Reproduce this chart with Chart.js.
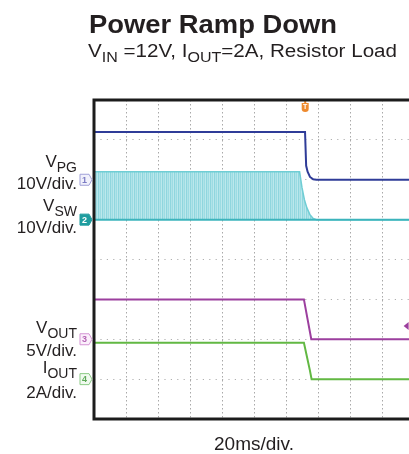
<!DOCTYPE html>
<html><head><meta charset="utf-8">
<script src="https://cdn.jsdelivr.net/npm/chart.js@4/dist/chart.umd.min.js"></script>
<style>
html,body{margin:0;padding:0;background:#fff;overflow:hidden;width:409px;height:454px;}
canvas{display:block;}
</style></head><body>
<canvas id="c" width="424" height="454" style="width:424px;height:454px"></canvas>
<script>
// ---- data read from the scope capture (time in ms, 20 ms/div) ----
const timeTicksMs = [0, 20, 40, 60, 80, 100, 120, 140, 160, 180, 200];
const vpgTimeMs = [0, 131.9, 132.6, 133.5, 135, 137, 139, 200];
const vpgVolts  = [12, 12, 3.5, 2.0, 0.7, 0.1, 0, 0];
const vswTimeMs = [0, 128.5, 130, 131.5, 133, 135, 137, 139, 200];
const vswPeakVolts = [12, 12, 8, 5, 3, 1.2, 0.3, 0, 0];
const vswBaseVolts = [0, 0, 0, 0, 0, 0, 0, 0, 0];
const voutTimeMs = [0, 131.2, 133.5, 135.8, 200];
const voutVolts  = [5.0, 5.0, 2.5, 0, 0];
const ioutTimeMs = [0, 131.2, 134.9, 136, 200];
const ioutAmps   = [1.82, 1.82, 0.45, 0, 0];
const channelNames = [['V','PG'], ['V','SW'], ['V','OUT'], ['I','OUT']];
const channelScaleLabels = ['10V/div.', '10V/div.', '5V/div.', '2A/div.'];
const channelPerDiv = [10, 10, 5, 2];
const channelOffsetDiv = [6, 5, 2, 1];
const triggerTimeMs = 132;
const triggerLevelVout = 1.65;
const timeBaseLabel = '20ms/div.';
const titleText = 'Power Ramp Down';

// ---- helpers ----
function toDiv(vals, ch) { return vals.map(v => channelOffsetDiv[ch] + v / channelPerDiv[ch]); }
function pts(ts, ys) { return ts.map((t, i) => ({ x: t, y: ys[i] })); }

const canvas = document.getElementById('c');
const ctx0 = canvas.getContext('2d');
function bandPattern() {
  const c = document.createElement('canvas'); c.width = 4; c.height = 1;
  const g = c.getContext('2d');
  ['#9cdce3', '#bce8ec', '#8fd6de', '#b0e3e8'].forEach((col, i) => { g.fillStyle = col; g.fillRect(i, 0, 1, 1); });
  return ctx0.createPattern(c, 'repeat');
}

const FONT = '"Liberation Sans", Arial, Helvetica, sans-serif';
const TEXT = '#231f20';

function drawSubText(ctx, parts, x, y, align, mainPx, subPx, targetW) {
  const mainF = mainPx + 'px ' + FONT, subF = subPx + 'px ' + FONT;
  let w = 0;
  parts.forEach(p => { ctx.font = p[1] ? subF : mainF; w += ctx.measureText(p[0]).width; });
  const sx = targetW ? targetW / w : 1;
  ctx.save();
  ctx.translate(align === 'right' ? x - w * sx : x, 0);
  ctx.scale(sx, 1);
  let cx = 0;
  ctx.textAlign = 'left'; ctx.textBaseline = 'alphabetic';
  parts.forEach(p => {
    ctx.font = p[1] ? subF : mainF;
    ctx.fillText(p[0], cx, p[1] ? y + 5 : y);
    cx += ctx.measureText(p[0]).width;
  });
  ctx.restore();
}

const markerStyles = [
  { fill: '#f1f1fb', stroke: '#a0a0d8', text: '#7c7cc4' },
  { fill: '#1f9d9f', stroke: '#1f9d9f', text: '#ffffff' },
  { fill: '#fbeffb', stroke: '#d595d5', text: '#b463b4' },
  { fill: '#f0faef', stroke: '#8ccb86', text: '#5ea958' }
];

const scopePlugin = {
  id: 'scope',
  afterDatasetsDraw(chart) {
    const { ctx, chartArea: a, scales: { x, y } } = chart;
    ctx.save();
    const ty = y.getPixelForValue(channelOffsetDiv[2] + triggerLevelVout / channelPerDiv[2]);
    const tx = x.getPixelForValue(193.5);
    ctx.fillStyle = '#9c3f9e';
    ctx.beginPath(); ctx.moveTo(tx, ty); ctx.lineTo(tx + 5, ty - 4); ctx.lineTo(tx + 5, ty + 4); ctx.closePath(); ctx.fill();
    const gx = x.getPixelForValue(triggerTimeMs);
    ctx.fillStyle = '#ee8a2e';
    ctx.fillRect(gx - 1, a.top, 2, 3);
    ctx.beginPath();
    ctx.moveTo(gx - 3.5, a.top + 3); ctx.lineTo(gx + 3.5, a.top + 3); ctx.lineTo(gx + 3.5, a.top + 9);
    ctx.quadraticCurveTo(gx + 3.5, a.top + 12, gx, a.top + 12);
    ctx.quadraticCurveTo(gx - 3.5, a.top + 12, gx - 3.5, a.top + 9); ctx.closePath(); ctx.fill();
    ctx.fillStyle = '#fff'; ctx.font = 'bold 7px ' + FONT; ctx.textAlign = 'center'; ctx.textBaseline = 'middle';
    ctx.fillText('T', gx, a.top + 7);
    ctx.strokeStyle = '#1c1c1c'; ctx.lineWidth = 3;
    ctx.strokeRect(a.left, a.top, a.right - a.left, a.bottom - a.top);
    channelOffsetDiv.forEach((off, i) => {
      const py = y.getPixelForValue(off);
      const s = markerStyles[i];
      const l = a.left - 14, r = a.left - 5;
      ctx.beginPath();
      ctx.moveTo(l, py - 5.5); ctx.lineTo(r, py - 5.5); ctx.lineTo(r + 3, py); ctx.lineTo(r, py + 5.5); ctx.lineTo(l, py + 5.5); ctx.closePath();
      ctx.fillStyle = s.fill; ctx.fill();
      ctx.lineWidth = 1; ctx.strokeStyle = s.stroke; ctx.stroke();
      ctx.fillStyle = s.text; ctx.font = 'bold 9px ' + FONT; ctx.textAlign = 'center'; ctx.textBaseline = 'middle';
      ctx.fillText(String(i + 1), (l + r) / 2, py + 0.5);
    });
    ctx.restore();
  },
  afterDraw(chart) {
    const { ctx, chartArea: a } = chart;
    ctx.save();
    ctx.fillStyle = TEXT;
    ctx.font = 'bold 25px ' + FONT; ctx.textAlign = 'left'; ctx.textBaseline = 'alphabetic';
    const tw = ctx.measureText(titleText).width;
    ctx.save(); ctx.translate(89, 0); ctx.scale(248 / tw, 1); ctx.fillText(titleText, 0, 33); ctx.restore();
    drawSubText(ctx, [['V', 0], ['IN', 1], [' =12V, I', 0], ['OUT', 1], ['=2A, Resistor Load', 0]], 88, 57, 'left', 18, 14, 309);
    const nameY = [167, 211, 333, 373];
    const scaleY = [189, 233, 356, 398];
    channelNames.forEach((n, i) => {
      drawSubText(ctx, [[n[0], 0], [n[1], 1]], 77, nameY[i], 'right', 17, 14);
      drawSubText(ctx, [[channelScaleLabels[i], 0]], 77, scaleY[i], 'right', 17, 14);
    });
    ctx.font = '19px ' + FONT; ctx.textAlign = 'center';
    ctx.fillText(timeBaseLabel, (a.left + a.right) / 2, 450);
    ctx.restore();
  }
};

const line = (label, data, color, w) => ({ label, data, borderColor: color, borderWidth: w, pointRadius: 0, tension: 0, fill: false });

new Chart(canvas, {
  type: 'line',
  data: {
    datasets: [
      line('VSW base', pts(vswTimeMs, toDiv(vswBaseVolts, 1)), '#3cb4bc', 2),
      Object.assign(line('VSW', pts(vswTimeMs, toDiv(vswPeakVolts, 1)), '#6fcdd4', 1.5), { fill: '-1', backgroundColor: bandPattern() }),
      line('VPG', pts(vpgTimeMs, toDiv(vpgVolts, 0)), '#2f3c98', 2),
      line('VOUT', pts(voutTimeMs, toDiv(voutVolts, 2)), '#9c3f9e', 2),
      line('IOUT', pts(ioutTimeMs, toDiv(ioutAmps, 3)), '#62b843', 2)
    ]
  },
  options: {
    responsive: false, animation: false, devicePixelRatio: 1,
    layout: { padding: { left: 94, top: 100, right: 10, bottom: 35 } },
    plugins: { legend: { display: false }, title: { display: false }, tooltip: { enabled: false } },
    scales: {
      x: {
        type: 'linear', min: timeTicksMs[0], max: timeTicksMs[timeTicksMs.length - 1],
        afterBuildTicks: s => { s.ticks = timeTicksMs.map(v => ({ value: v })); },
        ticks: { display: false },
        grid: { color: '#a9a9a9', lineWidth: 1, drawTicks: false },
        border: { display: false, dash: [1.5, 2.5] },
        afterFit: s => { s.height = 0; }
      },
      y: {
        type: 'linear', min: 0, max: 8,
        ticks: { display: false, stepSize: 1 },
        grid: { color: '#b0b0b0', lineWidth: 1, drawTicks: false },
        border: { display: false, dash: [1.2, 5.2] },
        afterFit: s => { s.width = 0; }
      }
    }
  },
  plugins: [scopePlugin]
});
</script>
</body></html>
